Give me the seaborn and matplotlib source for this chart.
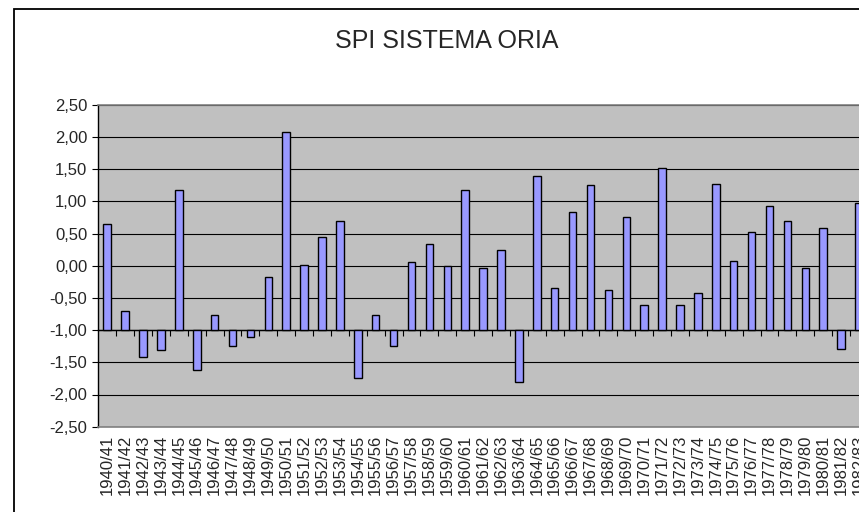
import pandas as pd
import numpy as np
import matplotlib.pyplot as plt
import seaborn as sns
from matplotlib.patches import Rectangle

# Datos SPI por año hidrológico
anios = ["1940/41", "1941/42", "1942/43", "1943/44", "1944/45", "1945/46", "1946/47",
         "1947/48", "1948/49", "1949/50", "1950/51", "1951/52", "1952/53", "1953/54",
         "1954/55", "1955/56", "1956/57", "1957/58", "1958/59", "1959/60", "1960/61",
         "1961/62", "1962/63", "1963/64", "1964/65", "1965/66", "1966/67", "1967/68",
         "1968/69", "1969/70", "1970/71", "1971/72", "1972/73", "1973/74", "1974/75",
         "1975/76", "1976/77", "1977/78", "1978/79", "1979/80", "1980/81", "1981/82",
         "1982/83"]
spi = [0.65, -0.70, -1.41, -1.31, 1.17, -1.62, -0.76,
       -1.25, -1.10, -0.18, 2.07, 0.01, 0.44, 0.69,
       -1.74, -0.76, -1.25, 0.05, 0.34, -0.01, 1.18,
       -0.03, 0.24, -1.81, 1.39, -0.34, 0.84, 1.25,
       -0.38, 0.75, -0.61, 1.52, -0.61, -0.43, 1.27,
       0.07, 0.53, 0.93, 0.69, -0.03, 0.59, -1.29,
       0.98]
base = -1.0  # el eje de categorías cruza en -1,00
yticks = np.arange(-2.5, 2.51, 0.5)

df = pd.DataFrame({"anio": anios, "spi": spi})
df["altura"] = df["spi"] - base

sns.set_style("white")
plt.rcParams["font.family"] = ["Liberation Sans", "DejaVu Sans"]

fig = plt.figure(figsize=(8.59, 5.12), dpi=100)
ax = fig.add_axes([98.3 / 859, (512 - 426.7) / 512, (859 - 98.3) / 859, 322 / 512])
ax.set_facecolor("#C0C0C0")

sns.barplot(x="anio", y="altura", data=df, ax=ax, bottom=base, width=0.42,
            color="#9999FF", edgecolor="black", linewidth=1.0, saturation=1)

ax.set_xlim(-0.5, 42.0)
ax.set_ylim(-2.5, 2.5)
ax.set_yticks(yticks)
ax.set_yticklabels([f"{v:.2f}".replace(".", ",") for v in yticks], fontsize=12)
ax.yaxis.grid(True, color="black", linewidth=0.8)
ax.set_axisbelow(True)
ax.tick_params(axis="y", direction="out", length=4.5, width=0.8, color="black", left=True)
ax.tick_params(axis="x", length=0, labelsize=12, rotation=90, pad=6)
ax.set_xlabel("")
ax.set_ylabel("")

for lado in ["top", "bottom"]:
    ax.spines[lado].set_color("#808080")
    ax.spines[lado].set_linewidth(1.2)
ax.spines["right"].set_visible(False)
ax.spines["left"].set_color("black")
ax.spines["left"].set_linewidth(1.0)

# eje de categorías en -1,00 con marcas entre categorías
sec = ax.secondary_xaxis((base + 2.5) / 5.0)
sec.set_xticks(np.arange(0.5, len(anios), 1.0))
sec.set_xticklabels([])
sec.tick_params(direction="out", length=4, width=0.8, color="black")
sec.spines["bottom"].set_color("black")
sec.spines["bottom"].set_linewidth(1.0)

fig.text(447 / 859, 1 - 41 / 512, "SPI SISTEMA ORIA", fontsize=18, ha="center", va="center")

fig.patches.append(Rectangle((13.5 / 859, -0.2), 1.5, 1.2 - 8.5 / 512, transform=fig.transFigure,
                             fill=False, edgecolor="black", linewidth=1.3))

fig.savefig("out.png", dpi=100)
